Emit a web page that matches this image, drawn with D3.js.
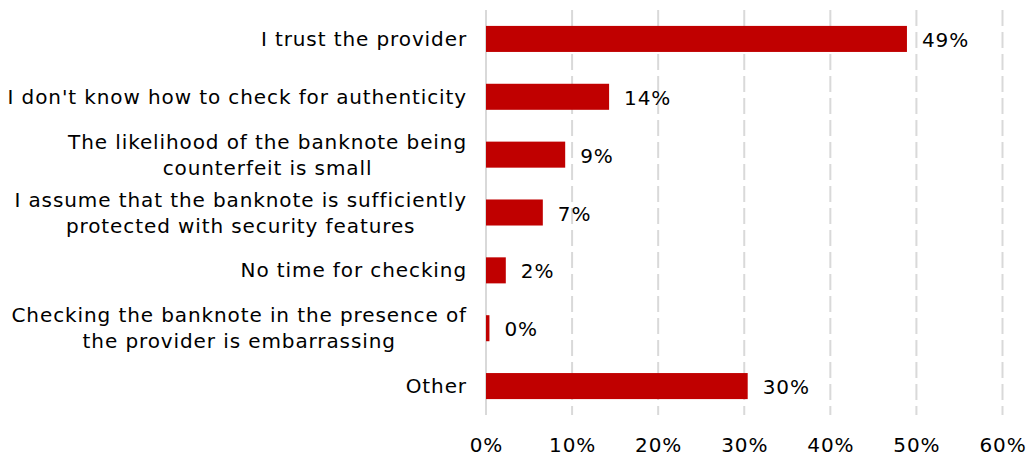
<!DOCTYPE html>
<html>
<head>
<meta charset="utf-8">
<script src="https://cdn.jsdelivr.net/npm/d3@7"></script>
<style>
  html, body { margin: 0; padding: 0; background: #fff; }
  svg text { font-family: "DejaVu Sans", Verdana, sans-serif; font-size: 20px; letter-spacing: 0.9px; fill: #000; }
</style>
</head>
<body>
<svg id="chart" width="1035" height="458"></svg>
<script>
// Reasons given for not checking a banknote (share of respondents)
const categories = [
  ["I trust the provider"],
  ["I don't know how to check for authenticity"],
  ["The likelihood of the banknote being", "counterfeit is small"],
  ["I assume that the banknote is sufficiently", "protected with security features"],
  ["No time for checking"],
  ["Checking the banknote in the presence of", "the provider is embarrassing"],
  ["Other"]
];
const values = [0.489, 0.143, 0.092, 0.066, 0.023, 0.004, 0.304];
const xTicks = [0, 0.1, 0.2, 0.3, 0.4, 0.5, 0.6];

const svg = d3.select("#chart");
const margin = { left: 486, right: 32.5, top: 10, bottom: 43 };
const W = 1035, H = 458;

const x = d3.scaleLinear().domain([0, 0.6]).range([margin.left, W - margin.right]);
const y = d3.scaleBand()
  .domain(d3.range(categories.length))
  .range([margin.top, H - margin.bottom])
  .paddingInner(0.55)
  .paddingOuter(0.275);

const pct = d3.format(".0%");

// vertical gridlines (solid at zero, dashed elsewhere)
svg.append("g")
  .selectAll("line")
  .data(xTicks)
  .join("line")
  .attr("x1", d => x(d)).attr("x2", d => x(d))
  .attr("y1", margin.top).attr("y2", H - margin.bottom)
  .attr("stroke", "#d9d9d9")
  .attr("stroke-width", 2)
  .attr("stroke-dasharray", d => d === 0 ? null : "16,6");

// x axis tick labels
const xAxis = d3.axisBottom(x).tickValues(xTicks).tickFormat(pct).tickSize(0).tickPadding(0);
const gx = svg.append("g")
  .attr("transform", "translate(0,452)")
  .call(xAxis);
gx.select(".domain").remove();
gx.selectAll("text")
  .attr("y", 0)
  .attr("dy", 0)
  .attr("fill", "#000");
gx.attr("font-size", null).attr("font-family", null);

// bars
svg.append("g")
  .selectAll("rect")
  .data(values)
  .join("rect")
  .attr("x", x(0))
  .attr("y", (d, i) => y(i))
  .attr("width", d => x(d) - x(0))
  .attr("height", y.bandwidth())
  .attr("fill", "#c00000");

// value labels
svg.append("g")
  .selectAll("text")
  .data(values)
  .join("text")
  .attr("x", d => x(d) + 15)
  .attr("y", (d, i) => y(i) + y.bandwidth() / 2 + 8)
  .text(d => pct(d));

// category labels: multi-line blocks centred on each other, right-aligned to the axis
const labelRight = 467;
const lineH = 26;
const catG = svg.append("g");
categories.forEach((lines, i) => {
  const cy = y(i) + y.bandwidth() / 2;
  const g = catG.append("g");
  const base = cy + 7 - (lines.length - 1) * lineH / 2;
  const texts = lines.map((ln, j) => g.append("text")
    .attr("y", base + j * lineH)
    .attr("text-anchor", "middle")
    .text(ln));
  const widths = texts.map(t => t.node().getComputedTextLength());
  const maxW = d3.max(widths);
  texts.forEach(t => t.attr("x", labelRight - maxW / 2));
});
</script>
</body>
</html>
